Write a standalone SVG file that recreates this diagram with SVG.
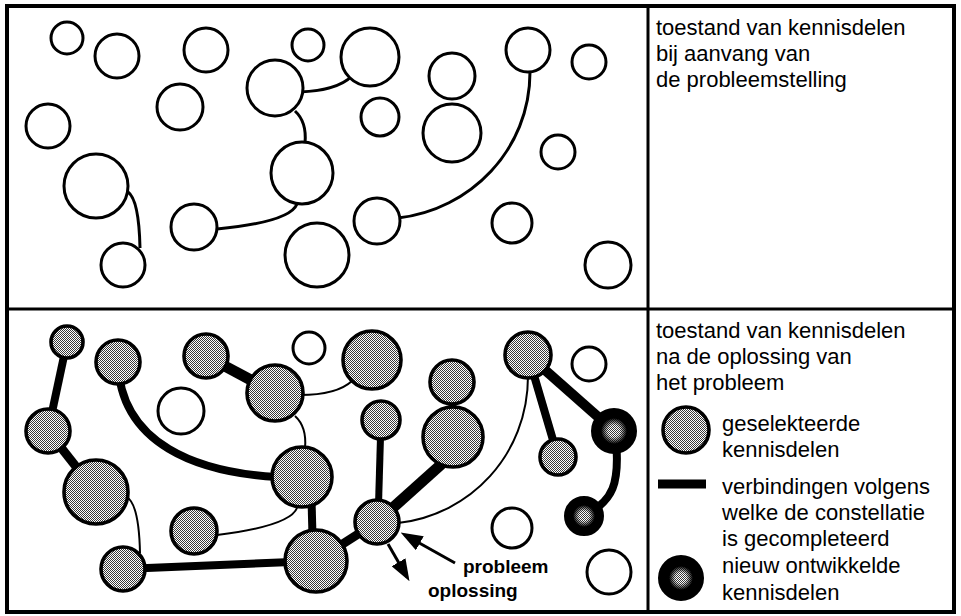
<svg xmlns="http://www.w3.org/2000/svg" width="961" height="616" viewBox="0 0 961 616">
  <defs>
    <!-- 50% halftone used for selected knowledge parts -->
    <pattern id="halftone" width="2" height="2" patternUnits="userSpaceOnUse">
      <rect width="2" height="2" fill="#fff"/>
      <rect width="1" height="1" fill="#3a3a3a"/>
      <rect x="1" y="1" width="1" height="1" fill="#3a3a3a"/>
    </pattern>
    <radialGradient id="fade">
      <stop offset="0.45" stop-color="#fff"/>
      <stop offset="1" stop-color="#000"/>
    </radialGradient>
    <mask id="core" maskContentUnits="objectBoundingBox">
      <circle cx="0.5" cy="0.5" r="0.5" fill="url(#fade)"/>
    </mask>
    <marker id="head" markerUnits="userSpaceOnUse" viewBox="0 0 22 16" markerWidth="22" markerHeight="16" refX="17" refY="8" orient="auto">
      <path d="M0,0 L22,8 L0,16 Z" fill="#000"/>
    </marker>
    <style>
      .frame { fill: none; stroke: #000; stroke-width: 4; }
      .div { stroke: #000; stroke-width: 3; }
      .plain { fill: #fff; stroke: #000; stroke-width: 3; }
      .sel { fill: url(#halftone); stroke: #000; stroke-width: 3.6; }
      .new { fill: #000; stroke: #000; stroke-width: 2; }
      .core { fill: url(#halftone); stroke: none; }
      .thin { fill: none; stroke: #000; stroke-width: 3; }
      .thin2 { fill: none; stroke: #000; stroke-width: 2; }
      .thick { fill: none; stroke: #000; stroke-linecap: butt; }
      .arrow { stroke: #000; stroke-width: 3; fill: none; }
      text { font-family: "Liberation Sans", Arial, Helvetica, sans-serif; fill: #000; }
      .lbl { font-size: 22px; }
      .bold { font-size: 19px; font-weight: bold; }
    </style>
  </defs>

  <rect width="961" height="616" fill="#fff"/>

  <!-- frame and panel dividers -->
  <g id="frame">
    <rect class="frame" x="7" y="6" width="947" height="606"/>
    <line class="div" x1="7" y1="309" x2="954" y2="309"/>
    <line class="div" x1="648" y1="6" x2="648" y2="612"/>
  </g>

  <!-- upper panel: starting state -->
  <g id="top-connectors">
    <path class="thin" d="M300 92 C320 91 340 88 352 76"/>
    <path class="thin" d="M295 111 Q307 122 305 143"/>
    <path class="thin" d="M297 204 Q290 222 217 229"/>
    <path class="thin" d="M128 192 Q139 200 140 248"/>
    <path class="thin" d="M398 218 C470 210 530 150 530 72"/>
  </g>
  <g id="top-nodes">
    <g id="t1"><circle class="plain" cx="67" cy="38" r="16"/></g>
    <g id="t2"><circle class="plain" cx="117" cy="56" r="22"/></g>
    <g id="t3"><circle class="plain" cx="206" cy="50" r="22"/></g>
    <g id="t4"><circle class="plain" cx="308" cy="45" r="16"/></g>
    <g id="t5"><circle class="plain" cx="275" cy="88" r="28"/></g>
    <g id="t6"><circle class="plain" cx="180" cy="107" r="23"/></g>
    <g id="t7"><circle class="plain" cx="48" cy="126" r="22"/></g>
    <g id="t8"><circle class="plain" cx="96" cy="186" r="32"/></g>
    <g id="t9"><circle class="plain" cx="123" cy="265" r="22"/></g>
    <g id="t10"><circle class="plain" cx="194" cy="227" r="23"/></g>
    <g id="t11"><circle class="plain" cx="302" cy="173" r="31"/></g>
    <g id="t12"><circle class="plain" cx="317" cy="255" r="32"/></g>
    <g id="t13"><circle class="plain" cx="370" cy="57" r="29"/></g>
    <g id="t14"><circle class="plain" cx="452" cy="76" r="23"/></g>
    <g id="t15"><circle class="plain" cx="380" cy="117" r="19"/></g>
    <g id="t16"><circle class="plain" cx="452" cy="133" r="29"/></g>
    <g id="t17"><circle class="plain" cx="528" cy="50" r="22"/></g>
    <g id="t18"><circle class="plain" cx="589" cy="62" r="17"/></g>
    <g id="t19"><circle class="plain" cx="558" cy="152" r="17"/></g>
    <g id="t20"><circle class="plain" cx="377" cy="221" r="23"/></g>
    <g id="t21"><circle class="plain" cx="512" cy="223" r="20"/></g>
    <g id="t22"><circle class="plain" cx="608" cy="265" r="23"/></g>
  </g>

  <g id="top-caption">
    <text class="lbl" x="656" y="35">toestand van kennisdelen</text>
    <text class="lbl" x="656" y="61">bij aanvang van</text>
    <text class="lbl" x="656" y="87">de probleemstelling</text>
  </g>

  <!-- lower panel: state after solving -->
  <g id="bottom-connectors">
    <path class="thin2" d="M300 395 C320 395 340 392 352 381"/>
    <path class="thin2" d="M295 416 Q307 427 305 448"/>
    <path class="thin2" d="M297 508 Q290 526 217 535"/>
    <path class="thin2" d="M127 497 Q139 505 140 553"/>
    <path class="thin2" d="M398 523 C470 515 528 455 528 376"/>

    <line class="thick" stroke-width="8" x1="67" y1="342" x2="48" y2="431"/>
    <line class="thick" stroke-width="9" x1="48" y1="431" x2="96" y2="492"/>
    <line class="thick" stroke-width="11" x1="206" y1="356" x2="275" y2="393"/>
    <path class="thick" stroke-width="8" d="M118 362 C120 440 190 477 302 478"/>
    <line class="thick" stroke-width="8" x1="311" y1="480" x2="313" y2="555"/>
    <line class="thick" stroke-width="8" x1="123" y1="569" x2="316" y2="561"/>
    <line class="thick" stroke-width="9" x1="316" y1="561" x2="377" y2="522"/>
    <line class="thick" stroke-width="7" x1="378" y1="522" x2="381" y2="420"/>
    <line class="thick" stroke-width="11" x1="377" y1="522" x2="455" y2="452"/>
    <line class="thick" stroke-width="8" x1="452" y1="382" x2="453" y2="437"/>
    <line class="thick" stroke-width="8" x1="528" y1="355" x2="558" y2="457"/>
    <line class="thick" stroke-width="10" x1="528" y1="355" x2="614" y2="431"/>
    <path class="thick" stroke-width="8" d="M616 440 C620 485 612 500 588 514"/>

    <!-- problem in, solution out -->
    <line class="arrow" x1="388" y1="544" x2="407" y2="577" marker-end="url(#head)"/>
    <line class="arrow" x1="455" y1="563" x2="405" y2="535" marker-end="url(#head)"/>
  </g>

  <g id="bottom-nodes">
    <g id="nA"><circle class="sel" cx="67" cy="342" r="16"/></g>
    <g id="nB"><circle class="sel" cx="118" cy="362" r="22"/></g>
    <g id="nC"><circle class="sel" cx="206" cy="356" r="22"/></g>
    <g id="nD"><circle class="plain" cx="309" cy="348" r="16"/></g>
    <g id="nE"><circle class="sel" cx="275" cy="393" r="28"/></g>
    <g id="nF"><circle class="plain" cx="181" cy="411" r="23"/></g>
    <g id="nG"><circle class="sel" cx="48" cy="431" r="22"/></g>
    <g id="nH"><circle class="sel" cx="96" cy="492" r="32"/></g>
    <g id="nI"><circle class="sel" cx="302" cy="477" r="30"/></g>
    <g id="nJ"><circle class="sel" cx="194" cy="531" r="23"/></g>
    <g id="nK"><circle class="sel" cx="123" cy="569" r="22"/></g>
    <g id="nL"><circle class="sel" cx="316" cy="561" r="31"/></g>
    <g id="nM"><circle class="sel" cx="372" cy="360" r="29"/></g>
    <g id="nN"><circle class="sel" cx="452" cy="382" r="22"/></g>
    <g id="nO"><circle class="sel" cx="381" cy="420" r="19"/></g>
    <g id="nP"><circle class="sel" cx="453" cy="437" r="30"/></g>
    <g id="nQ"><circle class="sel" cx="528" cy="355" r="23"/></g>
    <g id="nR"><circle class="plain" cx="589" cy="364" r="17"/></g>
    <g id="nS"><circle class="new" cx="614" cy="431" r="22"/><circle class="core" cx="614" cy="431" r="13" mask="url(#core)"/></g>
    <g id="nT"><circle class="sel" cx="558" cy="457" r="18"/></g>
    <g id="nU"><circle class="sel" cx="377" cy="522" r="22"/></g>
    <g id="nV"><circle class="plain" cx="512" cy="528" r="20"/></g>
    <g id="nW"><circle class="new" cx="584" cy="516" r="19"/><circle class="core" cx="584" cy="516" r="11" mask="url(#core)"/></g>
    <g id="nX"><circle class="plain" cx="609" cy="572" r="22"/></g>
  </g>

  <g id="arrow-labels">
    <text class="bold" x="463" y="573">probleem</text>
    <text class="bold" x="428" y="597">oplossing</text>
  </g>

  <!-- legend -->
  <g id="bottom-caption">
    <text class="lbl" x="656" y="338">toestand van kennisdelen</text>
    <text class="lbl" x="656" y="364">na de oplossing van</text>
    <text class="lbl" x="656" y="390">het probleem</text>
  </g>
  <g id="legend-selected">
    <circle class="sel" cx="686" cy="430" r="23"/>
    <text class="lbl" x="722" y="431">geselekteerde</text>
    <text class="lbl" x="722" y="457">kennisdelen</text>
  </g>
  <g id="legend-links">
    <line x1="658" y1="484" x2="706" y2="484" stroke="#000" stroke-width="9"/>
    <text class="lbl" x="722" y="494">verbindingen volgens</text>
    <text class="lbl" x="722" y="520">welke de constellatie</text>
    <text class="lbl" x="722" y="546">is gecompleteerd</text>
  </g>
  <g id="legend-new">
    <circle class="new" cx="681" cy="578" r="22"/>
    <circle class="core" cx="681" cy="578" r="12" mask="url(#core)"/>
    <text class="lbl" x="722" y="573">nieuw ontwikkelde</text>
    <text class="lbl" x="722" y="600">kennisdelen</text>
  </g>
</svg>
